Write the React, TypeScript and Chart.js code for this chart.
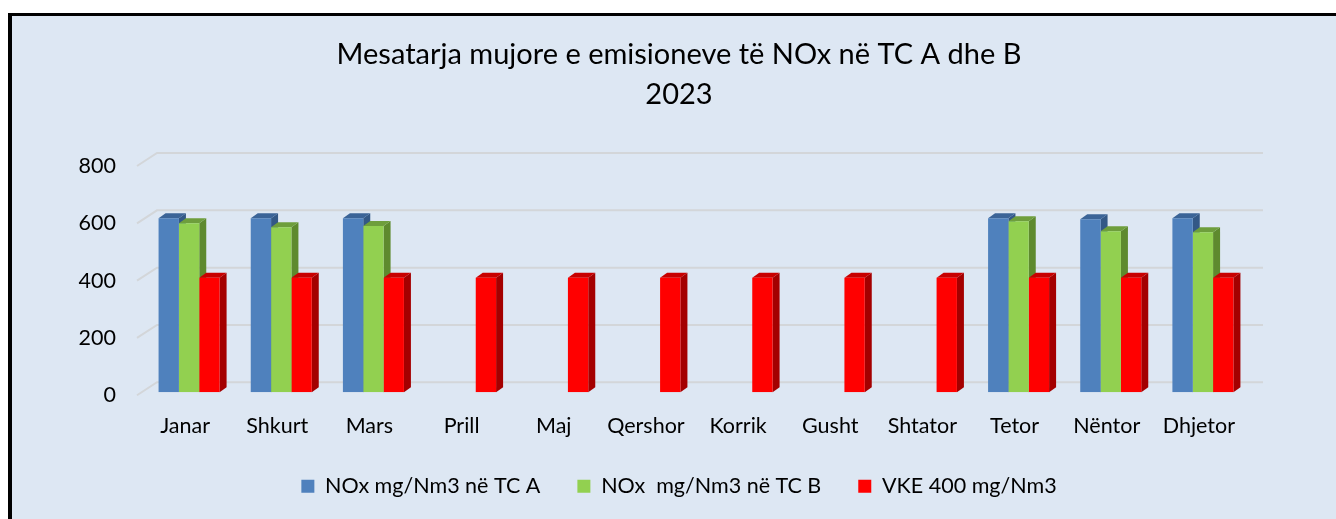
import React, { useEffect, useRef } from "react";
import { Chart, registerables } from "chart.js";

Chart.register(...registerables);

const categories = ["Janar", "Shkurt", "Mars", "Prill", "Maj", "Qershor", "Korrik", "Gusht", "Shtator", "Tetor", "Nëntor", "Dhjetor"];
const noxA = [607, 607, 607, null, null, null, null, null, null, 607, 604, 607];
const noxB = [590, 576, 580, null, null, null, null, null, null, 597, 562, 558];
const vke = [400, 400, 400, 400, 400, 400, 400, 400, 400, 400, 400, 400];
const seriesLabels = ["NOx mg/Nm3 në TC A", "NOx  mg/Nm3 në TC B", "VKE 400 mg/Nm3"];
const yTicks = [0, 200, 400, 600, 800];
const titleLines = ["Mesatarja mujore e emisioneve të NOx në TC A dhe B", "2023"];

const frontColors = ["#4F81BD", "#92D050", "#FF0000"];
const topColors = ["#3B6497", "#6E9E3C", "#C80000"];
const sideColors = ["#335886", "#5E8A2E", "#A40000"];

const FONT = "Lato, 'Open Sans', sans-serif";
const DEPTH_X = 7;
const DEPTH_Y = 5;
const WALL_X = 18;
const WALL_Y = 13;
const SHIFT_X = 4;
const SHIFT_Y = -3;

const threeD = {
  id: "threeD",
  beforeDatasetsDraw(chart: any) {
    const { ctx, chartArea, scales } = chart;
    const ys = scales.y;
    ctx.save();
    ctx.strokeStyle = "#D3D6D9";
    ctx.lineWidth = 2;
    yTicks.forEach((v) => {
      const py = ys.getPixelForValue(v);
      ctx.beginPath();
      ctx.moveTo(chartArea.left - 2, py);
      ctx.lineTo(chartArea.left + WALL_X, py - WALL_Y);
      ctx.lineTo(chartArea.right + WALL_X, py - WALL_Y);
      ctx.stroke();
    });
    ctx.restore();

    ctx.save();
    ctx.translate(SHIFT_X, SHIFT_Y);
    const n = chart.data.labels.length;
    for (let i = 0; i < n; i++) {
      chart.data.datasets.forEach((ds: any, di: number) => {
        const meta = chart.getDatasetMeta(di);
        const el = meta.data[i];
        if (ds.data[i] == null || !el) return;
        const p = el.getProps(["x", "y", "base", "width"], true);
        const L = p.x - p.width / 2;
        const R = p.x + p.width / 2;
        const top = p.y;
        const base = p.base;
        ctx.fillStyle = sideColors[di];
        ctx.beginPath();
        ctx.moveTo(R, top);
        ctx.lineTo(R + DEPTH_X, top - DEPTH_Y);
        ctx.lineTo(R + DEPTH_X, base - DEPTH_Y);
        ctx.lineTo(R, base);
        ctx.closePath();
        ctx.fill();
        ctx.fillStyle = topColors[di];
        ctx.beginPath();
        ctx.moveTo(L, top);
        ctx.lineTo(R, top);
        ctx.lineTo(R + DEPTH_X, top - DEPTH_Y);
        ctx.lineTo(L + DEPTH_X, top - DEPTH_Y);
        ctx.closePath();
        ctx.fill();
      });
    }
  },
  afterDatasetsDraw(chart: any) {
    chart.ctx.restore();
  },
};

export default function App() {
  const ref = useRef<HTMLCanvasElement | null>(null);

  useEffect(() => {
    if (!ref.current) return;
    const chart = new Chart(ref.current, {
      type: "bar",
      data: {
        labels: categories,
        datasets: [
          { label: seriesLabels[0], data: noxA, backgroundColor: frontColors[0], borderWidth: 0 },
          { label: seriesLabels[1], data: noxB, backgroundColor: frontColors[1], borderWidth: 0 },
          { label: seriesLabels[2], data: vke, backgroundColor: frontColors[2], borderWidth: 0 },
        ],
      },
      options: {
        responsive: false,
        animation: false,
        events: [],
        datasets: { bar: { categoryPercentage: 0.662, barPercentage: 1 } },
        layout: { padding: 0 },
        scales: {
          x: {
            grid: { display: false, drawTicks: false },
            border: { display: false },
            ticks: { color: "#000", font: { family: FONT, size: 21.5 }, padding: 18, maxRotation: 0, autoSkip: false },
            afterFit: (s: any) => {
              s.height = 43.25;
            },
          },
          y: {
            min: 0,
            max: 800,
            grid: { display: false, drawTicks: false },
            border: { display: false },
            ticks: { stepSize: 200, color: "#000", font: { family: FONT, size: 21.5 }, padding: 23 },
            afterFit: (s: any) => {
              s.width = 127;
            },
          },
          yRightSpace: {
            position: "right",
            display: true,
            grid: { display: false, drawTicks: false },
            border: { display: false },
            ticks: { display: false },
            afterFit: (s: any) => {
              s.width = 101;
            },
          },
        },
        plugins: {
          title: {
            display: true,
            text: titleLines,
            color: "#000",
            font: { family: FONT, size: 29, weight: "normal", lineHeight: "40px" },
            padding: { top: 19, bottom: 51 },
          },
          legend: {
            display: true,
            position: "bottom",
            labels: {
              color: "#000",
              font: { family: FONT, size: 21.5 },
              boxWidth: 13,
              boxHeight: 13,
              padding: 37,
            },
          },
          tooltip: { enabled: false },
        },
      },
      plugins: [threeD],
    } as any);
    return () => chart.destroy();
  }, []);

  return (
    <div
      style={{
        position: "fixed",
        left: 8,
        top: 13,
        width: 1350,
        height: 506,
        overflow: "hidden",
        background: "#DDE7F3",
        borderLeft: "4px solid #000",
        borderTop: "3px solid #000",
      }}
    >
      <canvas ref={ref} width={1334} height={491} style={{ display: "block", width: 1334, height: 491 }} />
    </div>
  );
}
